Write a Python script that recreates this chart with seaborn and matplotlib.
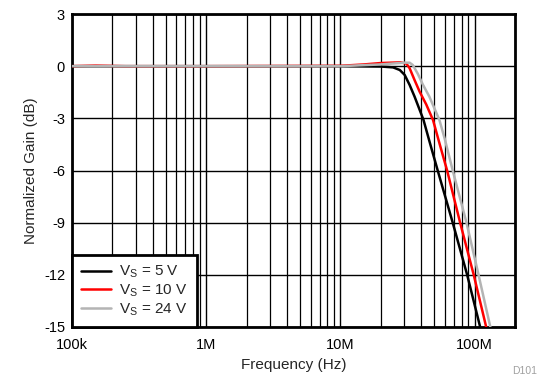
import numpy as np
import pandas as pd
import matplotlib
matplotlib.use("Agg")
import matplotlib.pyplot as plt
import seaborn as sns
from matplotlib.ticker import FixedLocator, LogLocator, NullFormatter, FixedFormatter

# ---- data ----
f_5v = [1e5, 1e6, 1e7, 2e7, 24.7e6, 27.7e6, 30.1e6, 32.8e6, 35.7e6, 38.9e6,
        41.6e6, 46e6, 53.1e6, 68.7e6, 88e6, 110e6]
g_5v = [0, 0, 0, -0.02, -0.07, -0.22, -0.5, -1.08, -1.75, -2.5,
        -3.09, -4.3, -6.0, -9.0, -12.0, -15.0]

f_10v = [1e5, 1.5e5, 2.5e5, 1e6, 1e7, 1.5e7, 2e7, 2.8e7, 31e6, 32.8e6,
         35.7e6, 38.9e6, 43.6e6, 49e6, 55e6, 62.4e6, 78e6, 98.5e6, 122e6]
g_10v = [0, 0.03, 0, 0, 0.02, 0.1, 0.18, 0.22, 0.15, -0.12,
         -0.8, -1.46, -2.2, -3.1, -4.5, -6.0, -9.0, -12.0, -15.0]

f_24v = [1e5, 1e6, 1e7, 2e7, 3e7, 32.8e6, 34.6e6, 37.8e6, 41.1e6, 46e6,
         50e6, 54.7e6, 60e6, 68.7e6, 87e6, 107e6, 131e6]
g_24v = [0, 0, 0, 0.1, 0.2, 0.2, 0.07, -0.45, -1.05, -1.75,
         -2.4, -3.1, -4.2, -6.0, -9.0, -12.0, -15.0]

series_labels = [r"V$_\mathregular{S}$ = 5 V", r"V$_\mathregular{S}$ = 10 V", r"V$_\mathregular{S}$ = 24 V"]
series_colors = ["#000000", "#ff0000", "#b4b4b4"]

x_ticks = [1e5, 1e6, 1e7, 1e8]
x_tick_labels = ["100k", "1M", "10M", "100M"]
y_ticks = [3, 0, -3, -6, -9, -12, -15]
y_tick_labels = ["3", "0", "-3", "-6", "-9", "-12", "-15"]

# ---- build table ----
frames = []
for lab, fx, gy in zip(series_labels, [f_5v, f_10v, f_24v], [g_5v, g_10v, g_24v]):
    frames.append(pd.DataFrame({"Frequency": fx, "Gain": gy, "Series": lab}))
df = pd.concat(frames, ignore_index=True)

sns.set_style("white")
plt.rcParams["font.family"] = ["Liberation Sans", "DejaVu Sans"]
plt.rcParams["mathtext.fontset"] = "custom"
plt.rcParams["mathtext.rm"] = "Liberation Sans"
plt.rcParams["mathtext.it"] = "Liberation Sans"

fig = plt.figure(figsize=(5.39, 3.78), dpi=100)
ax = fig.add_axes([72 / 539, 1 - 327 / 378, (515 - 72) / 539, (327 - 14) / 378])
ax.set_xscale("log")

sns.lineplot(data=df, x="Frequency", y="Gain", hue="Series", hue_order=series_labels,
             palette=series_colors, estimator=None, sort=False, linewidth=1.8, ax=ax,
             zorder=3)

ax.set_xlim(1e5, 2e8)
ax.set_ylim(-15, 3)

ax.xaxis.set_major_locator(FixedLocator(x_ticks))
ax.xaxis.set_major_formatter(FixedFormatter(x_tick_labels))
ax.xaxis.set_minor_locator(LogLocator(base=10, subs=np.arange(2, 10)))
ax.xaxis.set_minor_formatter(NullFormatter())
ax.yaxis.set_major_locator(FixedLocator(y_ticks))
ax.yaxis.set_major_formatter(FixedFormatter(y_tick_labels))

ax.grid(True, which="major", axis="both", color="black", linewidth=1.0, zorder=1)
ax.grid(True, which="minor", axis="x", color="black", linewidth=0.9, zorder=1)
ax.set_axisbelow(True)

ax.tick_params(axis="both", which="both", length=0, labelsize=10.5, colors="black")
ax.tick_params(axis="x", pad=8)
ax.tick_params(axis="y", pad=5)

for s in ax.spines.values():
    s.set_visible(True)
    s.set_color("black")
    s.set_linewidth(2)

ax.set_xlabel("Frequency (Hz)", fontsize=11, labelpad=4)
ax.set_ylabel("Normalized Gain (dB)", fontsize=11, labelpad=4)

leg = ax.legend(loc="lower left", frameon=True, fancybox=False, edgecolor="black",
                framealpha=1, borderaxespad=0, fontsize=11, handlelength=1.95,
                labelspacing=0.15, borderpad=0.6, handletextpad=0.55)
leg.get_frame().set_linewidth(2)
leg.set_zorder(5)

fig.text(537 / 539, 1 - 371 / 378, "D101", ha="right", va="center", fontsize=7.5, color="#a0a0a0")

fig.savefig("out.png", dpi=100)
